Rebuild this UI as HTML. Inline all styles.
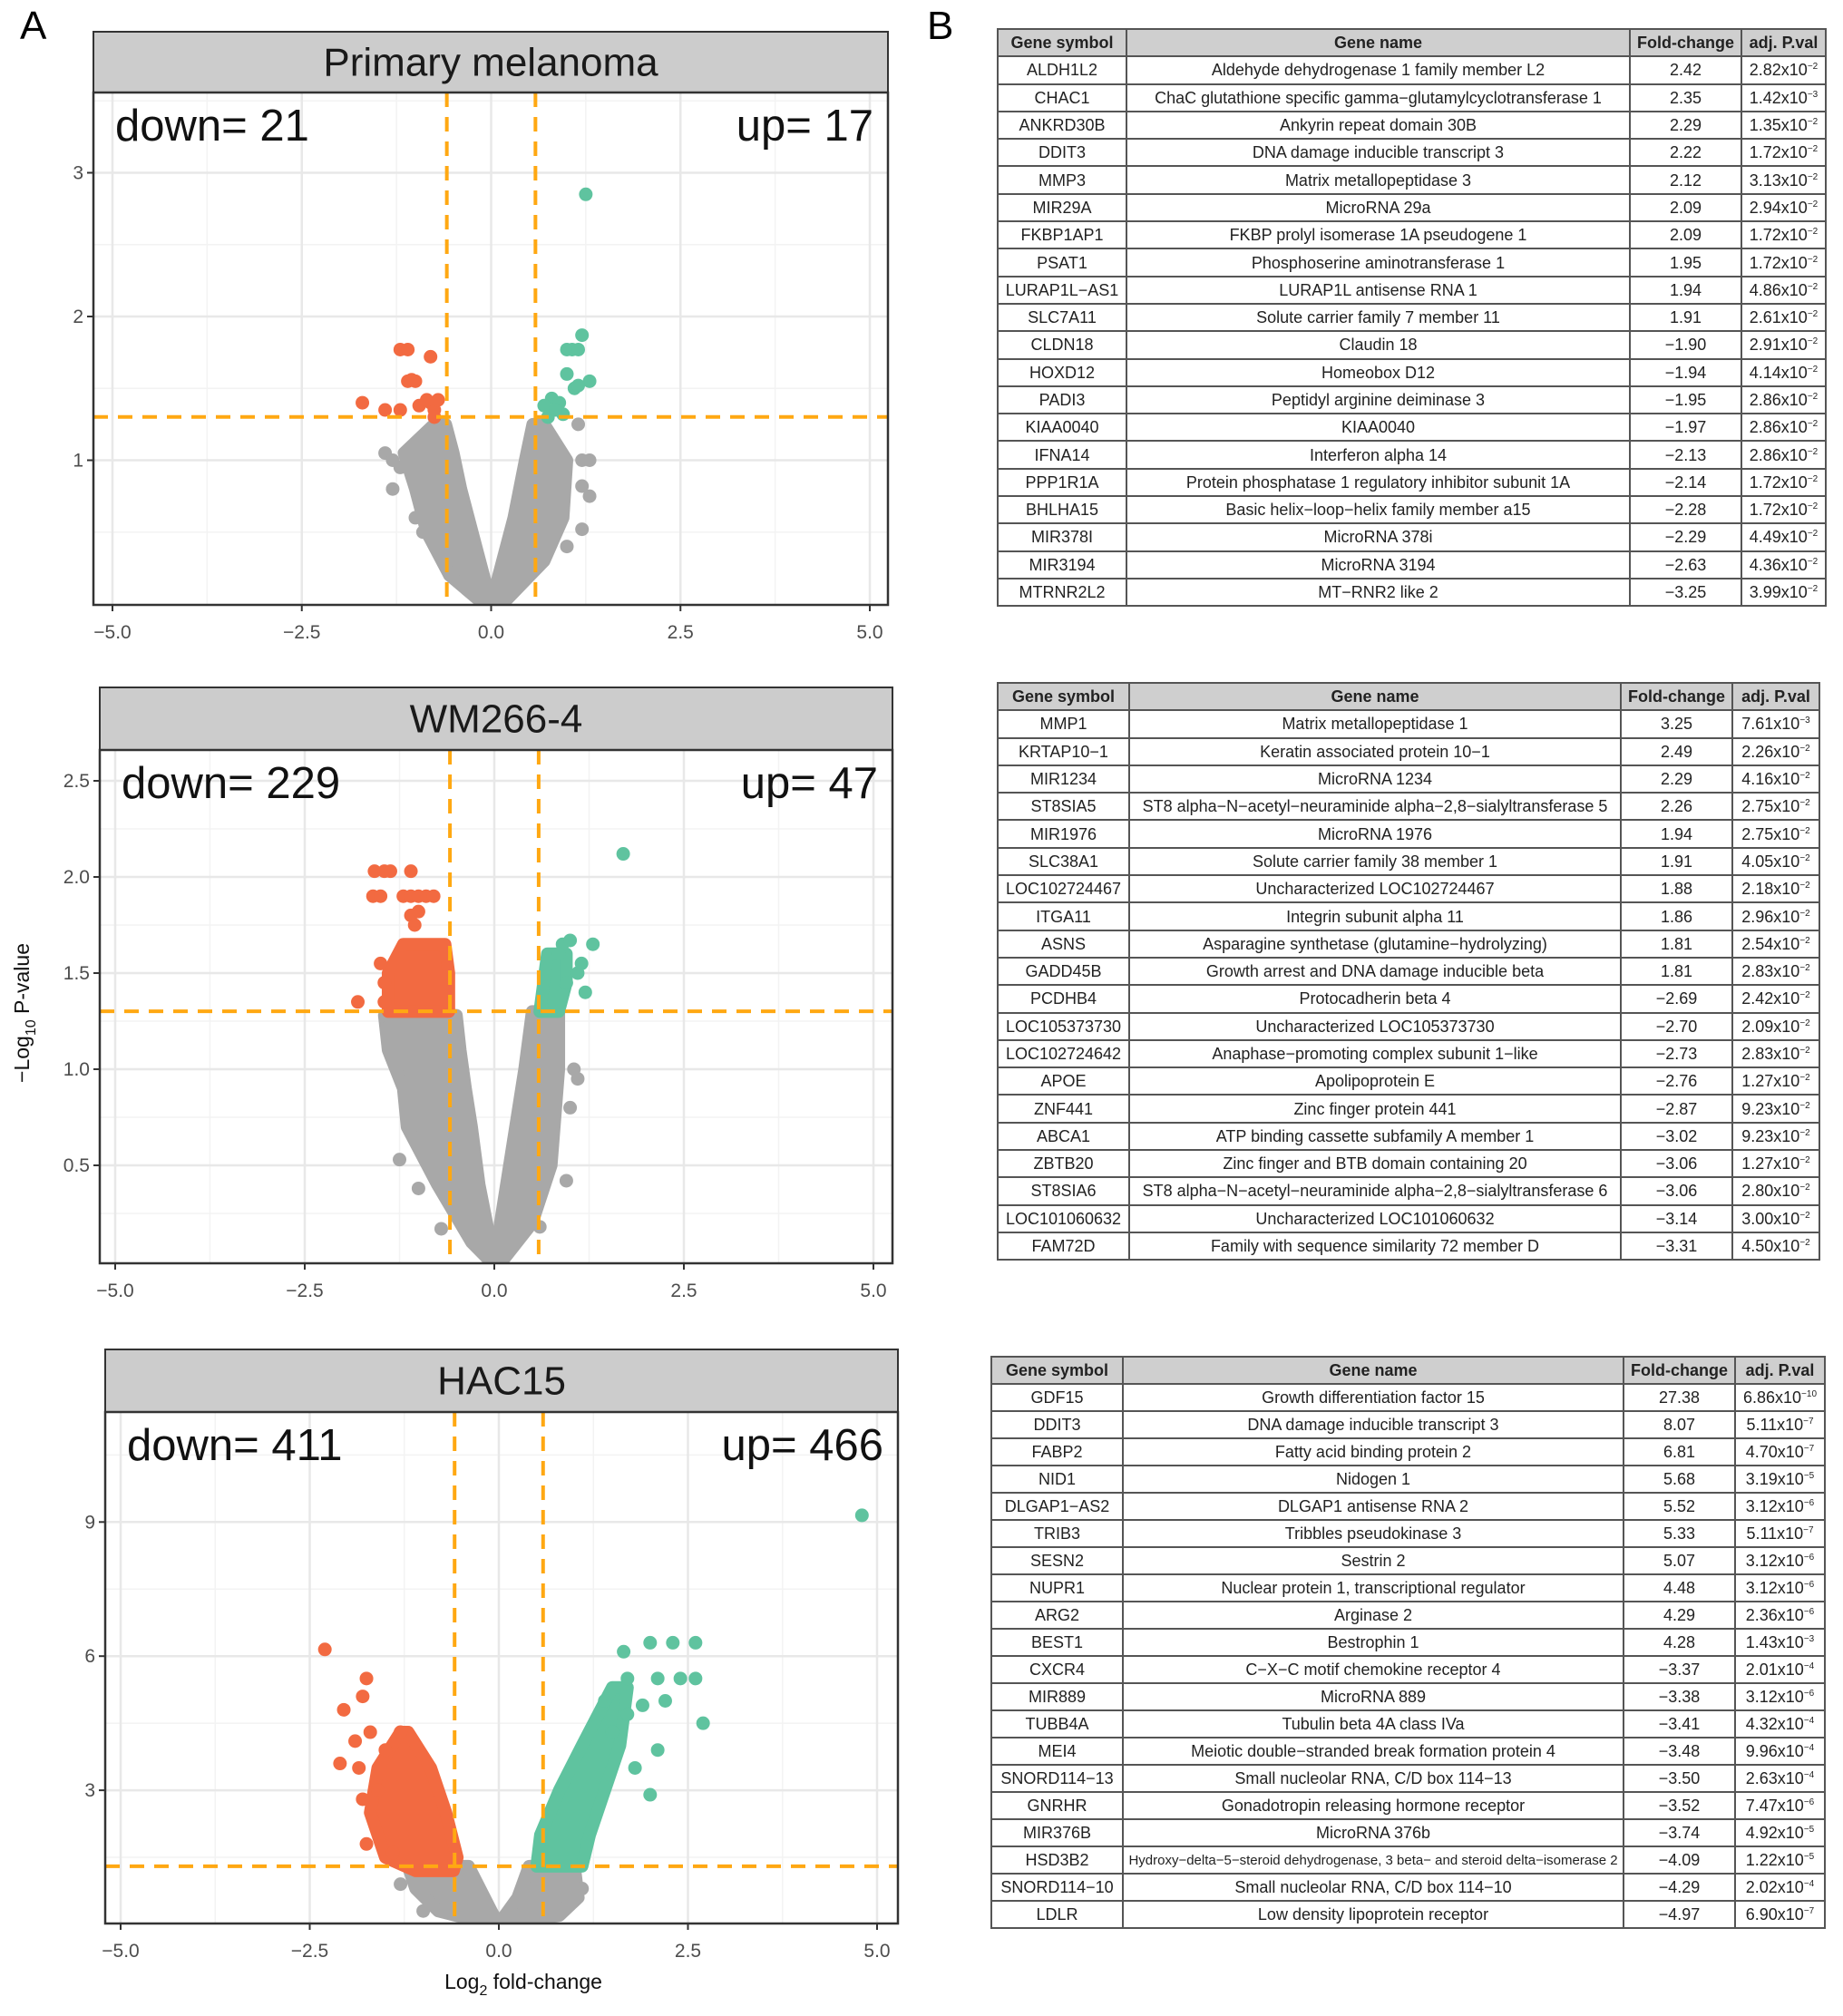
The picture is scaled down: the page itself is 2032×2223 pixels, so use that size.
<!DOCTYPE html>
<html><head><meta charset="utf-8">
<style>
body{margin:0;width:2032px;height:2223px;background:#fff;position:relative;overflow:hidden;font-family:"Liberation Sans",sans-serif;}
svg{position:absolute;left:0;top:0;}
table.gt{position:absolute;border-collapse:collapse;table-layout:fixed;font-family:"Liberation Sans",sans-serif;font-size:18px;color:#222;}
table.gt td,table.gt th{border:2px solid #555;padding:0 2px;text-align:center;white-space:nowrap;overflow:visible;line-height:1;}
table.gt th{background:#cfcfcf;font-weight:bold;font-size:18px;}
sup{font-size:10px;vertical-align:7px;}
.lbl{position:absolute;font-size:44px;font-family:"Liberation Sans",sans-serif;}
</style></head>
<body>
<div class="lbl" style="left:22px;top:4px">A</div>
<div class="lbl" style="left:1022px;top:4px">B</div>
<svg id="chart" width="2032" height="2223"></svg>
<div id="tables"></div>
<script>
// ---------- Panel 1: Primary melanoma ----------
const p1UpX=[1.25,1.2,1.0,1.07,1.15,1.3,1.0,1.1,1.15,0.8,0.9,0.7,0.95,0.75,0.85];
const p1UpY=[2.85,1.87,1.77,1.77,1.77,1.55,1.6,1.5,1.52,1.43,1.4,1.38,1.32,1.3,1.35];
const p1DownX=[-1.2,-1.1,-0.8,-1.1,-1.0,-1.7,-1.4,-1.2,-0.95,-0.8,-0.75,-0.75,-0.7,-0.85,-1.05];
const p1DownY=[1.77,1.77,1.72,1.55,1.55,1.4,1.35,1.35,1.38,1.4,1.35,1.3,1.42,1.42,1.56];
const p1GrayX=[-1.4,-1.3,-1.3,-1.0,1.2,1.3,1.2,1.3,1.2,1.0,1.15,-0.9,-1.2];
const p1GrayY=[1.05,1.0,0.8,0.6,1.0,1.0,0.82,0.75,0.52,0.4,1.25,0.5,0.95];
const p1ArmLY=[1.25,1.05,0.8,0.5,0.2,0.0];
const p1ArmLOut=[-0.75,-1.15,-1.0,-0.85,-0.55,-0.1];
const p1ArmLIn=[-0.6,-0.5,-0.4,-0.25,-0.1,0.0];
const p1ArmRY=[1.25,1.0,0.6,0.3,0.0];
const p1ArmROut=[0.7,1.0,0.95,0.7,0.15];
const p1ArmRIn=[0.55,0.45,0.3,0.15,0.0];
// ---------- Panel 2: WM266-4 ----------
const p2UpX=[1.7,1.3,1.15,1.2,0.9,1.0,0.85,1.1,0.95];
const p2UpY=[2.12,1.65,1.55,1.4,1.65,1.67,1.6,1.5,1.45];
const p2DownX=[-1.58,-1.45,-1.37,-1.1,-1.6,-1.5,-1.2,-1.1,-1.0,-0.9,-0.8,-1.8,-1.5,-1.45,-1.45,-1.1,-1.05,-1.0];
const p2DownY=[2.03,2.03,2.03,2.03,1.9,1.9,1.9,1.9,1.9,1.9,1.9,1.35,1.55,1.45,1.35,1.8,1.75,1.82];
const p2GrayX=[-1.4,-1.25,-1.0,-0.7,1.05,1.0,0.95,0.6,1.1];
const p2GrayY=[1.22,0.53,0.38,0.17,1.0,0.8,0.42,0.18,0.95];
const p2DownBandY=[1.65,1.5,1.3];
const p2DownBandL=[-1.2,-1.4,-1.4];
const p2DownBandR=[-0.65,-0.6,-0.6];
const p2UpBandY=[1.6,1.45,1.3];
const p2UpBandL=[0.7,0.65,0.6];
const p2UpBandR=[0.95,0.95,0.85];
const p2ArmLY=[1.28,1.1,0.9,0.7,0.4,0.1,0.0];
const p2ArmLOut=[-1.45,-1.4,-1.2,-1.15,-0.75,-0.3,-0.05];
const p2ArmLIn=[-0.5,-0.45,-0.38,-0.3,-0.2,-0.05,0.0];
const p2ArmRY=[1.3,1.0,0.5,0.2,0.0];
const p2ArmROut=[0.85,0.85,0.75,0.5,0.1];
const p2ArmRIn=[0.5,0.4,0.2,0.08,0.02];
// ---------- Panel 3: HAC15 ----------
const p3UpX=[4.8,1.65,2.0,2.3,2.6,1.7,2.1,2.4,2.6,2.7,1.4,2.1,2.0,1.8,1.5,1.7,1.9,2.2];
const p3UpY=[9.15,6.1,6.3,6.3,6.3,5.5,5.5,5.5,5.5,4.5,5.0,3.9,2.9,3.5,4.3,4.7,4.9,5.0];
const p3DownX=[-2.3,-1.75,-1.8,-2.05,-1.9,-2.1,-1.85,-1.8,-1.75,-1.4,-1.3,-1.7,-1.5,-1.6];
const p3DownY=[6.15,5.5,5.1,4.8,4.1,3.6,3.5,2.8,1.8,1.6,4.3,4.3,3.9,3.0];
const p3GrayX=[-1.3,1.1,-1.0,0.9];
const p3GrayY=[0.9,0.8,0.3,0.4];
const p3DownBandY=[4.3,3.5,2.5,1.5,1.2];
const p3DownBandL=[-1.3,-1.6,-1.7,-1.5,-1.1];
const p3DownBandR=[-1.2,-0.9,-0.7,-0.55,-0.6];
const p3UpBandY=[5.3,4.0,3.0,2.0,1.3];
const p3UpBandL=[1.5,1.1,0.8,0.55,0.5];
const p3UpBandR=[1.7,1.6,1.4,1.2,1.1];
const p3ArmLY=[1.3,0.8,0.3,0.0];
const p3ArmLOut=[-1.2,-1.1,-0.8,-0.1];
const p3ArmLIn=[-0.4,-0.25,-0.1,0.0];
const p3ArmRY=[1.3,0.6,0.2,0.0];
const p3ArmROut=[1.0,1.05,0.8,0.1];
const p3ArmRIn=[0.4,0.25,0.08,0.0];

const p1YTicks=[1,2,3], p2YTicks=[0.5,1.0,1.5,2.0,2.5], p3YTicks=[3,6,9];
const xTicks=[-5,-2.5,0,2.5,5];
const xTickLabels=["\u22125.0","\u22122.5","0.0","2.5","5.0"];
const p1YTickLabels=["1","2","3"], p2YTickLabels=["0.5","1.0","1.5","2.0","2.5"], p3YTickLabels=["3","6","9"];

const NS="http://www.w3.org/2000/svg";
const svg=document.getElementById('chart');
function mk(tag,attrs,parent){const e=document.createElementNS(NS,tag);for(const k in attrs)e.setAttribute(k,attrs[k]);(parent||svg).appendChild(e);return e;}
const RED="#f26a41",GREEN="#5fc39f",GRAY="#a8a8a8",ORANGE="#ffa812";

function panel(g){
  const sx=v=>g.x0+v*g.kx, sy=v=>g.y0-v*g.ky;
  const grp=mk('g',{});
  
  
  const strip=mk('rect',{x:g.l,y:g.st,width:g.r-g.l,height:g.t-g.st,fill:'#cccccc',stroke:'#333','stroke-width':2},grp);
  
  
  const stt=mk('text',{x:(g.l+g.r)/2,y:g.st+(g.t-g.st)/2+15,'text-anchor':'middle','font-size':44,fill:'#1a1a1a','font-family':'Liberation Sans, sans-serif'},grp);
  stt.textContent=g.title;
  
  
  mk('rect',{x:g.l,y:g.t,width:g.r-g.l,height:g.b-g.t,fill:'#fff'},grp);
  const cid='clip'+g.id;
  const cp=mk('clipPath',{id:cid},grp);mk('rect',{x:g.l,y:g.t,width:g.r-g.l,height:g.b-g.t},cp);
  const inner=mk('g',{'clip-path':'url(#'+cid+')'},grp);
  for(let i=0;i<xTicks.length-1;i++){const v=(xTicks[i]+xTicks[i+1])/2;mk('line',{x1:sx(v),x2:sx(v),y1:g.t,y2:g.b,stroke:'#f3f3f3','stroke-width':1.5},inner);}
  const ys=[0].concat(g.yt);const step=g.yt[1]-g.yt[0];ys.push(g.yt[g.yt.length-1]+step);
  for(let i=0;i<ys.length-1;i++){const v=(ys[i]+ys[i+1])/2;mk('line',{x1:g.l,x2:g.r,y1:sy(v),y2:sy(v),stroke:'#f3f3f3','stroke-width':1.5},inner);}
  xTicks.forEach(v=>mk('line',{x1:sx(v),x2:sx(v),y1:g.t,y2:g.b,stroke:'#e8e8e8','stroke-width':2.5},inner));
  g.yt.forEach(v=>mk('line',{x1:g.l,x2:g.r,y1:sy(v),y2:sy(v),stroke:'#e8e8e8','stroke-width':2.5},inner));
  function band(Y,L,R,col,nm){
    const pts=[];for(let i=0;i<Y.length;i++)pts.push(sx(L[i])+','+sy(Y[i]));
    for(let i=Y.length-1;i>=0;i--)pts.push(sx(R[i])+','+sy(Y[i]));
    const p=mk('polygon',{points:pts.join(' '),fill:col,stroke:col,'stroke-width':14,'stroke-linejoin':'round'},inner);
    
    
  }
  band(g.aLY,g.aLO,g.aLI,GRAY,'gray-density-left');
  band(g.aRY,g.aRI,g.aRO,GRAY,'gray-density-right');
  function pts(X,Y,col,nm){for(let i=0;i<X.length;i++){const c=mk('circle',{cx:sx(X[i]),cy:sy(Y[i]),r:7.5,fill:col},inner);
    
    }}
  pts(g.gx,g.gy,GRAY,'gene-point-ns');
  if(g.dbY)band(g.dbY,g.dbL,g.dbR,RED,'down-density');
  if(g.ubY)band(g.ubY,g.ubL,g.ubR,GREEN,'up-density');
  pts(g.dx,g.dy,RED,'gene-point-down');
  pts(g.ux,g.uy,GREEN,'gene-point-up');
  const dash={stroke:ORANGE,'stroke-width':4,'stroke-dasharray':'16 11',fill:'none'};
  const h=mk('line',Object.assign({x1:g.l,x2:g.r,y1:sy(1.30103),y2:sy(1.30103)},dash),inner);
  
  
  [-0.585,0.585].forEach(v=>{const l=mk('line',Object.assign({x1:sx(v),x2:sx(v),y1:g.t,y2:g.b},dash),inner);
    
    });
  mk('rect',{x:g.l,y:g.t,width:g.r-g.l,height:g.b-g.t,fill:'none',stroke:'#333','stroke-width':2.5},grp);
  const dt=mk('text',{x:g.l+24,y:g.t+53,'font-size':49,fill:'#111','font-family':'Liberation Sans, sans-serif'},grp);dt.textContent='down= '+g.down;
  
  
  const ut=mk('text',{x:g.r-16,y:g.t+53,'font-size':49,fill:'#111','text-anchor':'end','font-family':'Liberation Sans, sans-serif'},grp);ut.textContent='up= '+g.up;
  
  
  xTicks.forEach((v,i)=>{mk('line',{x1:sx(v),x2:sx(v),y1:g.b,y2:g.b+7,stroke:'#333','stroke-width':2},grp);
    const t=mk('text',{x:sx(v),y:g.b+37,'text-anchor':'middle','font-size':21,fill:'#4d4d4d','font-family':'Liberation Sans, sans-serif'},grp);t.textContent=xTickLabels[i];
    
    });
  g.yt.forEach((v,i)=>{mk('line',{x1:g.l-7,x2:g.l,y1:sy(v),y2:sy(v),stroke:'#333','stroke-width':2},grp);
    const t=mk('text',{x:g.l-11,y:sy(v)+7,'text-anchor':'end','font-size':21,fill:'#4d4d4d','font-family':'Liberation Sans, sans-serif'},grp);t.textContent=g.ytl[i];
    
    });
}
panel({id:1,name:'volcano-primary-melanoma',title:'Primary melanoma',down:21,up:17,l:103,r:979,st:35,t:102,b:667,x0:541.5,kx:83.5,y0:666,ky:158.5,yt:p1YTicks,ytl:p1YTickLabels,
  ux:p1UpX,uy:p1UpY,dx:p1DownX,dy:p1DownY,gx:p1GrayX,gy:p1GrayY,aLY:p1ArmLY,aLO:p1ArmLOut,aLI:p1ArmLIn,aRY:p1ArmRY,aRO:p1ArmROut,aRI:p1ArmRIn});
panel({id:2,name:'volcano-wm266-4',title:'WM266-4',down:229,up:47,l:110,r:984,st:758,t:827,b:1393,x0:545,kx:83.6,y0:1391,ky:212,yt:p2YTicks,ytl:p2YTickLabels,
  ux:p2UpX,uy:p2UpY,dx:p2DownX,dy:p2DownY,gx:p2GrayX,gy:p2GrayY,aLY:p2ArmLY,aLO:p2ArmLOut,aLI:p2ArmLIn,aRY:p2ArmRY,aRO:p2ArmROut,aRI:p2ArmRIn,
  dbY:p2DownBandY,dbL:p2DownBandL,dbR:p2DownBandR,ubY:p2UpBandY,ubL:p2UpBandL,ubR:p2UpBandR});
panel({id:3,name:'volcano-hac15',title:'HAC15',down:411,up:466,l:116,r:990,st:1488,t:1557,b:2121,x0:550,kx:83.4,y0:2122,ky:49.3,yt:p3YTicks,ytl:p3YTickLabels,
  ux:p3UpX,uy:p3UpY,dx:p3DownX,dy:p3DownY,gx:p3GrayX,gy:p3GrayY,aLY:p3ArmLY,aLO:p3ArmLOut,aLI:p3ArmLIn,aRY:p3ArmRY,aRO:p3ArmROut,aRI:p3ArmRIn,
  dbY:p3DownBandY,dbL:p3DownBandL,dbR:p3DownBandR,ubY:p3UpBandY,ubL:p3UpBandL,ubR:p3UpBandR});
const yt=mk('text',{x:0,y:0,transform:'translate(32,1117) rotate(-90)','text-anchor':'middle','font-size':23,fill:'#111','font-family':'Liberation Sans, sans-serif'});
yt.innerHTML='\u2212Log<tspan font-size="16" dy="7">10</tspan><tspan dy="-7"> P-value</tspan>';


const xt=mk('text',{x:577,y:2193,'text-anchor':'middle','font-size':23,fill:'#111','font-family':'Liberation Sans, sans-serif'});
xt.innerHTML='Log<tspan font-size="16" dy="7">2</tspan><tspan dy="-7"> fold-change</tspan>';



const t1=[["ALDH1L2","Aldehyde dehydrogenase 1 family member L2","2.42","2.82","-2"],["CHAC1","ChaC glutathione specific gamma\u2212glutamylcyclotransferase 1","2.35","1.42","-3"],["ANKRD30B","Ankyrin repeat domain 30B","2.29","1.35","-2"],["DDIT3","DNA damage inducible transcript 3","2.22","1.72","-2"],["MMP3","Matrix metallopeptidase 3","2.12","3.13","-2"],["MIR29A","MicroRNA 29a","2.09","2.94","-2"],["FKBP1AP1","FKBP prolyl isomerase 1A pseudogene 1","2.09","1.72","-2"],["PSAT1","Phosphoserine aminotransferase 1","1.95","1.72","-2"],["LURAP1L\u2212AS1","LURAP1L antisense RNA 1","1.94","4.86","-2"],["SLC7A11","Solute carrier family 7 member 11","1.91","2.61","-2"],["CLDN18","Claudin 18","\u22121.90","2.91","-2"],["HOXD12","Homeobox D12","\u22121.94","4.14","-2"],["PADI3","Peptidyl arginine deiminase 3","\u22121.95","2.86","-2"],["KIAA0040","KIAA0040","\u22121.97","2.86","-2"],["IFNA14","Interferon alpha 14","\u22122.13","2.86","-2"],["PPP1R1A","Protein phosphatase 1 regulatory inhibitor subunit 1A","\u22122.14","1.72","-2"],["BHLHA15","Basic helix\u2212loop\u2212helix family member a15","\u22122.28","1.72","-2"],["MIR378I","MicroRNA 378i","\u22122.29","4.49","-2"],["MIR3194","MicroRNA 3194","\u22122.63","4.36","-2"],["MTRNR2L2","MT\u2212RNR2 like 2","\u22123.25","3.99","-2"]];
const t2=[["MMP1","Matrix metallopeptidase 1","3.25","7.61","-3"],["KRTAP10\u22121","Keratin associated protein 10\u22121","2.49","2.26","-2"],["MIR1234","MicroRNA 1234","2.29","4.16","-2"],["ST8SIA5","ST8 alpha\u2212N\u2212acetyl\u2212neuraminide alpha\u22122,8\u2212sialyltransferase 5","2.26","2.75","-2"],["MIR1976","MicroRNA 1976","1.94","2.75","-2"],["SLC38A1","Solute carrier family 38 member 1","1.91","4.05","-2"],["LOC102724467","Uncharacterized LOC102724467","1.88","2.18","-2"],["ITGA11","Integrin subunit alpha 11","1.86","2.96","-2"],["ASNS","Asparagine synthetase (glutamine\u2212hydrolyzing)","1.81","2.54","-2"],["GADD45B","Growth arrest and DNA damage inducible beta","1.81","2.83","-2"],["PCDHB4","Protocadherin beta 4","\u22122.69","2.42","-2"],["LOC105373730","Uncharacterized LOC105373730","\u22122.70","2.09","-2"],["LOC102724642","Anaphase\u2212promoting complex subunit 1\u2212like","\u22122.73","2.83","-2"],["APOE","Apolipoprotein E","\u22122.76","1.27","-2"],["ZNF441","Zinc finger protein 441","\u22122.87","9.23","-2"],["ABCA1","ATP binding cassette subfamily A member 1","\u22123.02","9.23","-2"],["ZBTB20","Zinc finger and BTB domain containing 20","\u22123.06","1.27","-2"],["ST8SIA6","ST8 alpha\u2212N\u2212acetyl\u2212neuraminide alpha\u22122,8\u2212sialyltransferase 6","\u22123.06","2.80","-2"],["LOC101060632","Uncharacterized LOC101060632","\u22123.14","3.00","-2"],["FAM72D","Family with sequence similarity 72 member D","\u22123.31","4.50","-2"]];
const t3=[["GDF15","Growth differentiation factor 15","27.38","6.86","-10"],["DDIT3","DNA damage inducible transcript 3","8.07","5.11","-7"],["FABP2","Fatty acid binding protein 2","6.81","4.70","-7"],["NID1","Nidogen 1","5.68","3.19","-5"],["DLGAP1\u2212AS2","DLGAP1 antisense RNA 2","5.52","3.12","-6"],["TRIB3","Tribbles pseudokinase 3","5.33","5.11","-7"],["SESN2","Sestrin 2","5.07","3.12","-6"],["NUPR1","Nuclear protein 1, transcriptional regulator","4.48","3.12","-6"],["ARG2","Arginase 2","4.29","2.36","-6"],["BEST1","Bestrophin 1","4.28","1.43","-3"],["CXCR4","C\u2212X\u2212C motif chemokine receptor 4","\u22123.37","2.01","-4"],["MIR889","MicroRNA 889","\u22123.38","3.12","-6"],["TUBB4A","Tubulin beta 4A class IVa","\u22123.41","4.32","-4"],["MEI4","Meiotic double\u2212stranded break formation protein 4","\u22123.48","9.96","-4"],["SNORD114\u221213","Small nucleolar RNA, C/D box 114\u221213","\u22123.50","2.63","-4"],["GNRHR","Gonadotropin releasing hormone receptor","\u22123.52","7.47","-6"],["MIR376B","MicroRNA 376b","\u22123.74","4.92","-5"],["HSD3B2","Hydroxy\u2212delta\u22125\u2212steroid dehydrogenase, 3 beta\u2212 and steroid delta\u2212isomerase 2","\u22124.09","1.22","-5"],["SNORD114\u221210","Small nucleolar RNA, C/D box 114\u221210","\u22124.29","2.02","-4"],["LDLR","Low density lipoprotein receptor","\u22124.97","6.90","-7"]];
function table(rows,left,top,cols,rh,name){
  const tb=document.createElement('table');tb.className='gt';
  
  
  tb.style.left=left+'px';tb.style.top=top+'px';
  tb.style.width=cols.reduce((a,b)=>a+b,0)+'px';
  const cg=document.createElement('colgroup');cols.forEach(w=>{const c=document.createElement('col');c.style.width=w+'px';cg.appendChild(c);});tb.appendChild(cg);
  const hr=document.createElement('tr');hr.style.height=rh+'px';
  ["Gene symbol","Gene name","Fold-change","adj. P.val"].forEach(h=>{const th=document.createElement('th');th.textContent=h;hr.appendChild(th);});
  
  
  tb.appendChild(hr);
  rows.forEach(r=>{const tr=document.createElement('tr');tr.style.height=rh+'px';
    
    
    for(let i=0;i<3;i++){const td=document.createElement('td');td.textContent=r[i];if(r[i].length>70){td.style.setProperty('font-size','15px','important');td.style.overflow='hidden';td.style.padding='0';}tr.appendChild(td);}
    const td=document.createElement('td');td.innerHTML=r[3]+'x10<sup>'+r[4].replace('-','\u2212')+'</sup>';tr.appendChild(td);
    tb.appendChild(tr);});
  document.getElementById('tables').appendChild(tb);
}
table(t1,1099,31,[142,555,123,93],30.3,'table-primary-melanoma');
table(t2,1099,752,[145,542,123,96],30.3,'table-wm266-4');
table(t3,1092,1495,[145,552,123,99],30,'table-hac15');
</script>
</body></html>
